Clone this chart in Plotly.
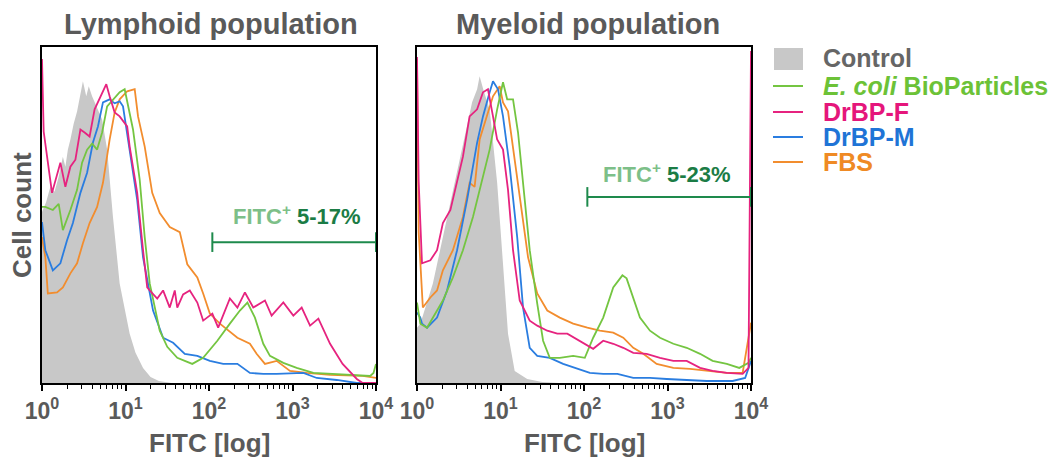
import numpy as np
import plotly.graph_objects as go

W, H = 1059, 459

# ---------------- data (log10 FITC, cell count) ----------------
lym_ctrl_log = [0.00, 0.05, 0.10, 0.15, 0.20, 0.25, 0.28, 0.31, 0.34, 0.38, 0.42, 0.46, 0.49, 0.53, 0.56, 0.60, 0.65, 0.72, 0.78, 0.85, 0.93, 1.00, 1.05, 1.12, 1.21, 1.30, 1.40, 1.55, 4.00]
lym_ctrl_cnt = [170, 180, 195, 190, 205, 225, 215, 232, 242, 258, 270, 287, 300, 285, 295, 285, 275, 262, 232, 165, 99, 68, 49, 30, 15, 6, 2, 0, 0]

lym_ecoli_log = [0.00, 0.04, 0.13, 0.20, 0.25, 0.34, 0.42, 0.48, 0.54, 0.60, 0.66, 0.72, 0.78, 0.85, 0.93, 0.99, 1.02, 1.09, 1.17, 1.23, 1.29, 1.41, 1.50, 1.62, 1.71, 1.80, 1.93, 2.10, 2.25, 2.37, 2.46, 2.55, 2.65, 2.73, 2.89, 3.05, 3.25, 3.45, 3.70, 3.93, 3.97, 4.00]
lym_ecoli_cnt = [175, 175, 172, 178, 152, 172, 192, 219, 232, 238, 232, 249, 275, 282, 289, 292, 280, 252, 202, 145, 99, 52, 36, 25, 22, 19, 25, 42, 59, 72, 80, 65, 39, 27, 20, 15, 10, 9, 8, 7, 10, 19]

lym_drbpf_log = [0.00, 0.02, 0.12, 0.22, 0.28, 0.34, 0.40, 0.46, 0.51, 0.57, 0.63, 0.69, 0.77, 0.81, 0.87, 0.93, 1.02, 1.05, 1.14, 1.21, 1.26, 1.29, 1.38, 1.45, 1.53, 1.59, 1.62, 1.69, 1.77, 1.86, 1.93, 2.04, 2.11, 2.25, 2.34, 2.43, 2.53, 2.67, 2.75, 2.89, 3.01, 3.11, 3.21, 3.31, 3.45, 3.60, 3.77, 3.84, 4.00]
lym_drbpf_cnt = [322, 250, 189, 219, 195, 215, 222, 252, 249, 245, 272, 282, 297, 285, 269, 265, 255, 235, 189, 132, 95, 92, 84, 92, 75, 92, 75, 88, 92, 80, 62, 69, 55, 84, 75, 90, 75, 82, 67, 80, 67, 75, 57, 64, 39, 19, 4, 0, 0]

lym_drbpm_log = [0.00, 0.04, 0.13, 0.22, 0.30, 0.37, 0.46, 0.54, 0.61, 0.67, 0.73, 0.81, 0.87, 0.93, 0.97, 1.05, 1.14, 1.21, 1.33, 1.45, 1.57, 1.71, 1.86, 2.01, 2.17, 2.34, 2.49, 2.65, 2.81, 3.13, 3.29, 3.53, 3.77, 4.00]
lym_drbpm_cnt = [160, 132, 112, 119, 142, 159, 189, 209, 239, 255, 279, 282, 278, 280, 275, 232, 182, 125, 72, 45, 40, 29, 27, 22, 19, 19, 10, 9, 9, 10, 5, 3, 0, 0]

lym_fbs_log = [0.00, 0.04, 0.07, 0.18, 0.25, 0.34, 0.42, 0.49, 0.57, 0.66, 0.73, 0.81, 0.87, 0.93, 1.02, 1.11, 1.15, 1.23, 1.32, 1.41, 1.53, 1.65, 1.74, 1.86, 1.93, 2.01, 2.13, 2.34, 2.49, 2.57, 2.67, 2.81, 2.97, 3.17, 3.45, 3.84, 4.00]
lym_fbs_cnt = [145, 125, 89, 90, 95, 109, 119, 139, 159, 175, 199, 242, 269, 282, 290, 292, 265, 235, 189, 169, 155, 150, 118, 105, 89, 69, 59, 45, 39, 29, 19, 22, 12, 10, 8, 7, 5]

mye_ctrl_log = [0.00, 0.04, 0.19, 0.31, 0.43, 0.55, 0.66, 0.72, 0.75, 0.80, 0.87, 0.96, 1.03, 1.09, 1.17, 1.32, 1.50, 1.70, 4.00]
mye_ctrl_cnt = [55, 59, 99, 145, 192, 239, 279, 292, 305, 290, 272, 199, 115, 49, 12, 4, 1, 0, 0]

mye_ecoli_log = [0.00, 0.04, 0.12, 0.19, 0.31, 0.43, 0.55, 0.67, 0.79, 0.87, 0.96, 1.03, 1.08, 1.15, 1.21, 1.27, 1.35, 1.44, 1.51, 1.59, 1.71, 1.87, 2.01, 2.11, 2.23, 2.35, 2.46, 2.51, 2.59, 2.67, 2.79, 2.91, 3.07, 3.23, 3.39, 3.54, 3.71, 3.86, 3.97, 4.00]
mye_ecoli_cnt = [80, 59, 55, 65, 82, 105, 132, 165, 205, 232, 272, 299, 282, 282, 249, 199, 132, 79, 42, 25, 25, 27, 25, 45, 65, 95, 107, 104, 85, 65, 52, 45, 39, 35, 29, 22, 19, 15, 20, 25]

mye_drbpf_log = [0.00, 0.02, 0.06, 0.16, 0.24, 0.31, 0.40, 0.48, 0.55, 0.63, 0.72, 0.79, 0.85, 0.91, 0.96, 1.03, 1.09, 1.15, 1.23, 1.35, 1.44, 1.56, 1.68, 1.80, 1.95, 2.11, 2.23, 2.35, 2.47, 2.59, 2.75, 2.91, 3.07, 3.23, 3.39, 3.54, 3.71, 3.90, 3.97, 4.00]
mye_drbpf_cnt = [324, 200, 119, 122, 132, 159, 172, 199, 225, 265, 272, 289, 292, 265, 242, 232, 192, 132, 82, 62, 57, 52, 49, 49, 42, 34, 42, 39, 35, 30, 29, 25, 22, 22, 15, 12, 10, 9, 15, 330]

mye_drbpm_log = [0.00, 0.04, 0.06, 0.12, 0.24, 0.36, 0.48, 0.60, 0.72, 0.79, 0.87, 0.91, 0.97, 1.03, 1.11, 1.20, 1.27, 1.35, 1.44, 1.59, 1.75, 1.92, 2.07, 2.23, 2.40, 2.59, 2.79, 2.99, 3.23, 3.47, 3.78, 3.93, 4.00]
mye_drbpm_cnt = [70, 65, 59, 55, 65, 92, 132, 182, 239, 265, 289, 300, 292, 265, 215, 145, 75, 35, 27, 25, 19, 14, 10, 9, 9, 5, 5, 4, 3, 2, 2, 5, 22]

mye_fbs_log = [0.00, 0.02, 0.07, 0.16, 0.24, 0.31, 0.43, 0.55, 0.63, 0.69, 0.75, 0.84, 0.91, 0.99, 1.03, 1.09, 1.17, 1.26, 1.33, 1.44, 1.56, 1.71, 1.87, 2.04, 2.19, 2.35, 2.47, 2.59, 2.71, 2.87, 3.07, 3.27, 3.47, 3.71, 3.90, 4.00]
mye_fbs_cnt = [322, 150, 75, 85, 92, 112, 132, 165, 199, 195, 242, 265, 285, 295, 279, 270, 222, 165, 125, 89, 72, 65, 59, 55, 52, 50, 45, 35, 29, 19, 15, 14, 12, 10, 10, 60]

series_names = ["Control", "<i>E. coli</i> BioParticles", "DrBP-F", "DrBP-M", "FBS"]
series_colors = ["#c8c8c8", "#74c541", "#e6237f", "#2a7de0", "#f28d2e"]
text_colors = ["#666666", "#6cc237", "#e5167b", "#1f74d6", "#ef8a24"]

panel_titles = ["Lymphoid population", "Myeloid population"]
fitc_labels = ["5-17%", "5-23%"]
gate_log = [2.04, 4.0]
gate_cnt = [140, 185]

tick_vals = [1, 10, 100, 1000, 10000]
tick_text = ["10<sup>0</sup>", "10<sup>1</sup>", "10<sup>2</sup>", "10<sup>3</sup>", "10<sup>4</sup>"]
minor_vals = [m * d for d in [1, 10, 100, 1000] for m in range(2, 10)]

FONT = "Liberation Sans, Arial, sans-serif"
AX_TXT = "#5a5a5a"

panels = [
    [(lym_ctrl_log, lym_ctrl_cnt), (lym_ecoli_log, lym_ecoli_cnt), (lym_drbpf_log, lym_drbpf_cnt),
     (lym_drbpm_log, lym_drbpm_cnt), (lym_fbs_log, lym_fbs_cnt)],
    [(mye_ctrl_log, mye_ctrl_cnt), (mye_ecoli_log, mye_ecoli_cnt), (mye_drbpf_log, mye_drbpf_cnt),
     (mye_drbpm_log, mye_drbpm_cnt), (mye_fbs_log, mye_fbs_cnt)],
]
draw_order = [0, 4, 3, 1, 2]

fig = go.Figure()
for p, data in enumerate(panels):
    xa = "x" if p == 0 else "x2"
    ya = "y" if p == 0 else "y2"
    for i in draw_order:
        lg, ct = data[i]
        xs = 10 ** np.array(lg)
        if i == 0:
            fig.add_trace(go.Scatter(x=xs, y=ct, mode="lines", fill="tozeroy",
                                     fillcolor=series_colors[0], line=dict(width=0, color=series_colors[0]),
                                     xaxis=xa, yaxis=ya, showlegend=False, hoverinfo="skip"))
        else:
            fig.add_trace(go.Scatter(x=xs, y=ct, mode="lines",
                                     line=dict(width=1.8, color=series_colors[i]),
                                     xaxis=xa, yaxis=ya, showlegend=False))
    # gate bracket
    gx = 10 ** np.array(gate_log)
    fig.add_trace(go.Scatter(x=gx, y=[gate_cnt[p]] * 2, mode="lines+markers",
                             line=dict(color="#1e8a4c", width=2),
                             marker=dict(symbol="line-ns", size=14, line=dict(width=2, color="#1e8a4c")),
                             xaxis=xa, yaxis=ya, showlegend=False, cliponaxis=False))

def px(x):
    return x / W

def py(y):
    return 1 - y / H

xcommon = dict(type="log", range=[0, 4], tickmode="array", tickvals=tick_vals, ticktext=tick_text,
               ticks="outside", ticklen=6, tickwidth=1.5, tickcolor="black", automargin=False,
               showline=True, linecolor="black", linewidth=2, mirror=True,
               showgrid=False, zeroline=False,
               tickfont=dict(family=FONT, size=23, color=AX_TXT, weight="bold"),
               minor=dict(tickmode="array", tickvals=minor_vals, ticks="outside", ticklen=4,
                          tickwidth=1.2, tickcolor="black", showgrid=False))
ycommon = dict(range=[0, 334], showticklabels=False, ticks="", showgrid=False, zeroline=False,
               showline=True, linecolor="black", linewidth=2, mirror=True, automargin=False,
               domain=[py(383), py(47)])

fig.update_layout(
    width=W, height=H, margin=dict(l=0, r=0, t=0, b=0, autoexpand=False),
    paper_bgcolor="white", plot_bgcolor="white",
    xaxis=dict(domain=[px(42), px(376)], anchor="y", **xcommon),
    xaxis2=dict(domain=[px(417), px(751)], anchor="y2", **xcommon),
    yaxis=dict(anchor="x", **ycommon),
    yaxis2=dict(anchor="x2", **ycommon),
    showlegend=False,
)

ann = []
# panel titles
for cx, t in zip([211, 588], panel_titles):
    ann.append(dict(x=px(cx), y=py(24), xref="paper", yref="paper", text=t, showarrow=False,
                    xanchor="center", yanchor="middle",
                    font=dict(family=FONT, size=29, color=AX_TXT, weight="bold")))
# x-axis titles
for cx in [209, 584]:
    ann.append(dict(x=px(cx), y=py(443), xref="paper", yref="paper", text="FITC [log]", showarrow=False,
                    xanchor="center", yanchor="middle",
                    font=dict(family=FONT, size=26, color=AX_TXT, weight="bold")))
# y-axis title
ann.append(dict(x=px(22), y=py(215), xref="paper", yref="paper", text="Cell count", showarrow=False,
                textangle=-90, xanchor="center", yanchor="middle",
                font=dict(family=FONT, size=26, color=AX_TXT, weight="bold")))
# FITC+ labels
for (cx, cy), lab in zip([(297, 215), (667, 173)], fitc_labels):
    ann.append(dict(x=px(cx), y=py(cy), xref="paper", yref="paper",
                    text=f"<span style='color:#7dbf88'>FITC<sup>+</sup></span> <span style='color:#1b7c45'>{lab}</span>",
                    showarrow=False, xanchor="center", yanchor="middle",
                    font=dict(family=FONT, size=22, weight="bold")))

# manual legend
shapes = []
leg_rows = [58, 86, 112, 137, 162]
for i, (name, yrow) in enumerate(zip(series_names, leg_rows)):
    if i == 0:
        shapes.append(dict(type="rect", xref="paper", yref="paper", x0=px(774), x1=px(803),
                           y0=py(70), y1=py(48), fillcolor=series_colors[0], line=dict(width=0)))
    else:
        shapes.append(dict(type="line", xref="paper", yref="paper", x0=px(773), x1=px(803),
                           y0=py(yrow), y1=py(yrow), line=dict(color=series_colors[i], width=2)))
    ann.append(dict(x=px(821), y=py(yrow), xref="paper", yref="paper", text=name, showarrow=False,
                    xanchor="left", yanchor="middle",
                    font=dict(family=FONT, size=25, color=text_colors[i], weight="bold")))

fig.update_layout(annotations=ann, shapes=shapes)
fig.write_html("out.html")
